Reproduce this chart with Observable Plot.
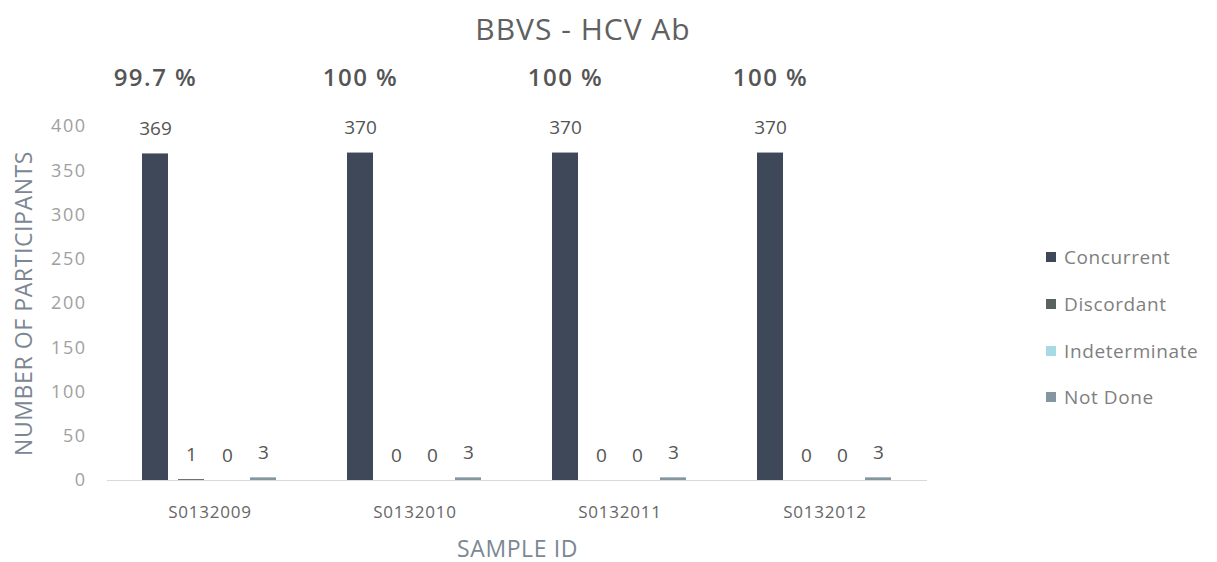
<!DOCTYPE html>
<html>
<head>
<meta charset="utf-8">
<script src="https://cdn.jsdelivr.net/npm/d3@7"></script>
<script src="https://cdn.jsdelivr.net/npm/@observablehq/plot@0.6"></script>
<style>
  html, body { margin: 0; padding: 0; background: #fff; }
  body { width: 1217px; height: 562px; position: relative; overflow: hidden; font-family: "Open Sans", sans-serif; }
  #title { position: absolute; left: 0; width: 1166px; top: 8px; text-align: center; font-size: 30px; color: #606060; letter-spacing: 1px; }
  #chart { position: absolute; left: 0; top: 0; }
  #legend { position: absolute; left: 1046px; top: 234px; }
  .item { display: flex; align-items: center; height: 46.7px; font-size: 19px; color: #7f7f7f; letter-spacing: 0.6px; }
  .sw { width: 10px; height: 10px; margin-right: 8px; }
</style>
</head>
<body>
<div id="chart"></div>
<div id="title">BBVS - HCV Ab</div>
<div id="legend"></div>
<script>
const samples = ["S0132009", "S0132010", "S0132011", "S0132012"];
const categories = ["Concurrent", "Discordant", "Indeterminate", "Not Done"];
const concurrent = [369, 370, 370, 370];
const discordant = [1, 0, 0, 0];
const indeterminate = [0, 0, 0, 0];
const notDone = [3, 3, 3, 3];
const agreement = ["99.7 %", "100 %", "100 %", "100 %"];
const yTicks = [0, 50, 100, 150, 200, 250, 300, 350, 400];
const colors = ["#3e4858", "#59625f", "#a6dbe6", "#8496a0"];

const series = [concurrent, discordant, indeterminate, notDone];
const data = [];
samples.forEach((s, i) => {
  categories.forEach((c, j) => data.push({sample: s, category: c, value: series[j][i]}));
});
const pct = samples.map((s, i) => ({sample: s, category: "Concurrent", label: agreement[i]}));

const chart = Plot.plot({
  width: 1217,
  height: 562,
  marginLeft: 106,
  marginRight: 290,
  marginTop: 126,
  marginBottom: 82,
  style: {fontFamily: "Open Sans, sans-serif", background: "#fff"},
  fx: {domain: samples, padding: 0},
  x: {domain: categories, paddingInner: 0.27, paddingOuter: 0.91, axis: null},
  y: {domain: [0, 400]},
  color: {domain: categories, range: colors},
  marks: [
    Plot.axisY({ticks: yTicks, tickSize: 0, tickPadding: 21, fontSize: 18, color: "#a0a0a0",
      label: "NUMBER OF PARTICIPANTS", labelAnchor: "center", labelArrow: "none", labelOffset: 92}),
    Plot.axisFx({anchor: "bottom", tickSize: 0, tickPadding: 25, fontSize: 17, color: "#666",
      label: "SAMPLE ID", labelAnchor: "center", labelArrow: "none", labelOffset: 76}),
    Plot.ruleY([0], {stroke: "#d9d9d9", strokeWidth: 1.2}),
    Plot.barY(data, {fx: "sample", x: "category", y: "value", fill: "category"}),
    Plot.text(data, {fx: "sample", x: "category", y: "value", text: d => String(d.value),
      dy: -25, fontSize: 19, fill: "#555"}),
    Plot.text(pct, {fx: "sample", x: "category", y: () => 400, text: "label",
      dy: -48, fontSize: 24, fontWeight: 600, fill: "#555"})
  ]
});
chart.querySelectorAll('[aria-label="y-axis label"] text').forEach(t => {
  t.setAttribute("font-size", "23"); t.setAttribute("fill", "#7b8793"); t.setAttribute("letter-spacing", "0.6");
});
chart.querySelectorAll('[aria-label="fx-axis label"] text').forEach(t => {
  t.setAttribute("font-size", "23"); t.setAttribute("fill", "#7b8793"); t.setAttribute("letter-spacing", "0.6");
});
chart.querySelectorAll('[aria-label="fx-axis tick label"] text').forEach(t => t.setAttribute("letter-spacing", "0.8"));
chart.querySelectorAll('[aria-label="y-axis tick label"] text').forEach(t => t.setAttribute("letter-spacing", "1.5"));
chart.querySelectorAll('[aria-label="text"]').forEach((g, i) => {
  if (i === 1) g.setAttribute("letter-spacing", "1.5");
});
document.getElementById("chart").appendChild(chart);

const lg = document.getElementById("legend");
categories.forEach((c, i) => {
  const it = document.createElement("div");
  it.className = "item";
  const sw = document.createElement("div");
  sw.className = "sw";
  sw.style.background = colors[i];
  const tx = document.createElement("span");
  tx.textContent = c;
  it.appendChild(sw);
  it.appendChild(tx);
  lg.appendChild(it);
});
</script>
</body>
</html>
